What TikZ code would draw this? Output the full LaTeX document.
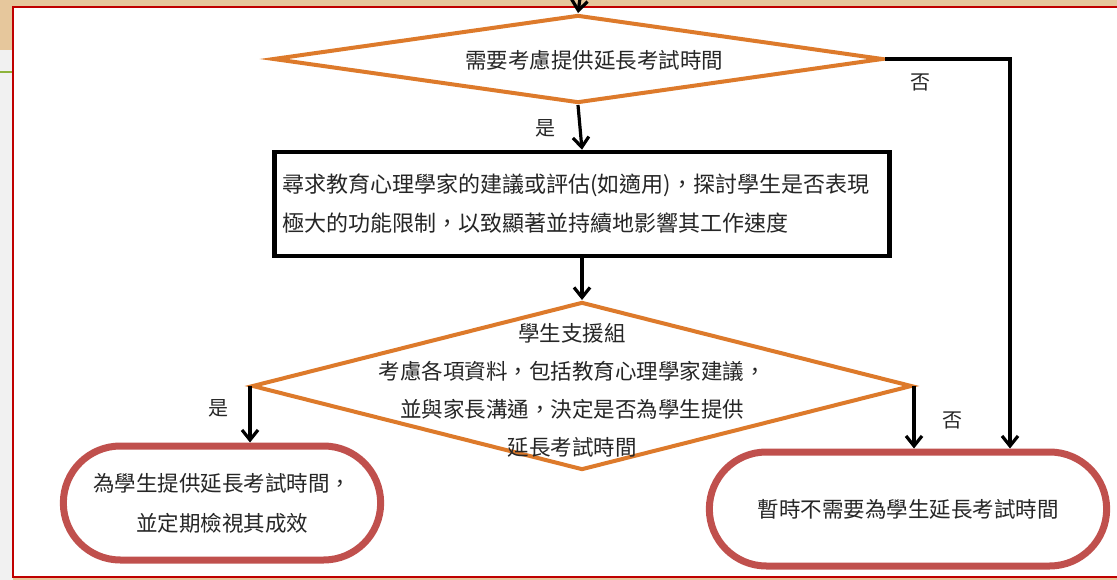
\documentclass[tikz,border=0pt]{standalone}
\usepackage{fontspec}
\newfontfamily\cjk{Noto Sans CJK TC}
\usetikzlibrary{shapes.geometric,shapes.misc,arrows.meta,positioning}
\definecolor{deciorange}{HTML}{DD7A2B}
\definecolor{endred}{HTML}{C0504D}
\definecolor{framered}{HTML}{C00000}
\definecolor{slidebeige}{HTML}{E6C79C}
\definecolor{slidegrey}{HTML}{F1F1F1}
\definecolor{slidegreen}{HTML}{8DB33A}
\tikzset{every picture/.style={line width=0.75pt}}

\begin{document}
\begin{tikzpicture}[x=1pt,y=1pt,yscale=-1,xscale=1,
  txt/.style={font=\cjk\fontsize{21.5}{38}\selectfont, text=black!85, inner sep=0pt, align=center},
  lbl/.style={font=\cjk\fontsize{20}{24}\selectfont, text=black!85, inner sep=0pt},
  decision/.style={diamond, draw=deciorange, line width=4pt, inner sep=0pt},
  procbox/.style={draw=black, line width=4.5pt, fill=white, font=\cjk\fontsize{22}{39}\selectfont, text=black!85, align=left, inner xsep=8pt},
  endbox/.style={rounded rectangle, draw=endred, line width=7pt, fill=white, font=\cjk\fontsize{21.5}{40}\selectfont, text=black!85, align=center},
  arr/.style={line width=3.2pt, -{Straight Barb[length=10pt,width=16pt]}}]
\useasboundingbox (0,0) rectangle (1117,580);

% slide background
\fill[slidebeige] (0,0) rectangle (1117,580);
\fill[slidegrey] (0,50) rectangle (13,580);
\draw[slidegreen, line width=2pt] (0,72) -- (13,72);
\draw[framered, line width=2pt, fill=white] (13,7) rectangle (1130,577);

% decisions
\node[decision, minimum width=610pt, minimum height=88pt] (q1) at (578,59) {};
\node[txt] (q1t) at (594,60) {需要考慮提供延長考試時間};
\node[decision, minimum width=660pt, minimum height=168pt] (q2) at (582,386) {};
\node[txt] (q2t) at (572,390) {學生支援組\\考慮各項資料，包括教育心理學家建議，\\並與家長溝通，決定是否為學生提供\\延長考試時間};

% process box
\node[procbox, minimum width=615pt, minimum height=104pt, text width=599pt] (b1) at (582,204) {尋求教育心理學家的建議或評估(如適用)，探討學生是否表現\\極大的功能限制，以致顯著並持續地影響其工作速度};

% outcomes
\node[endbox, minimum width=324pt, minimum height=114pt] (t1) at (222,503) {為學生提供延長考試時間，\\並定期檢視其成效};
\node[endbox, minimum width=404pt, minimum height=114pt] (t2) at (908,509) {暫時不需要為學生延長考試時間};

% connectors
\coordinate (entry) at (580,-2);
\coordinate (bend) at (1010,59);
\draw[arr] (entry) -- (q1.north);
\draw[arr] (q1.south) -- (b1.north);
\draw[arr] (b1.south) -- (q2.north);
\draw[arr] (q2.west) -- (q2.west |- t1.north);
\draw[arr] (q2.east) -- (q2.east |- t2.north);
\draw[arr] (q1.east) -- (bend) -- (bend |- t2.north);

% labels
\node[lbl] (yes1) at (545,128) {是};
\node[lbl] (no1) at (920,82) {否};
\node[lbl] (yes2) at (218,408) {是};
\node[lbl] (no2) at (952,420) {否};
\end{tikzpicture}
\end{document}
